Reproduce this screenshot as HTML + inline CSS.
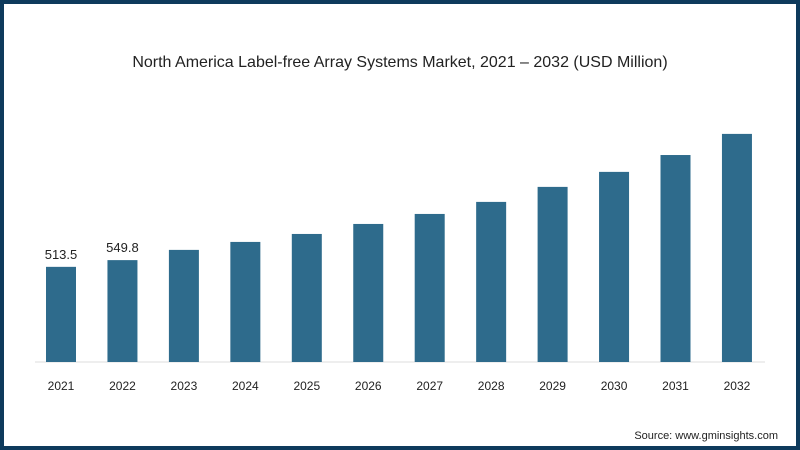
<!DOCTYPE html>
<html><head><meta charset="utf-8"><style>
body{margin:0;background:#fff}
#wrap{position:relative;width:800px;height:450px;box-sizing:border-box;border:4px solid #0e3a5c;background:#fff;font-family:"Liberation Sans",sans-serif}
</style></head><body>
<div id="wrap">
<svg id="chart" width="792" height="442" style="position:absolute;left:0;top:0">
<text x="396" y="63" text-anchor="middle" font-size="16" fill="#222">North America Label-free Array Systems Market, 2021 – 2032 (USD Million)</text>
<line x1="31" y1="358" x2="761" y2="358" stroke="#ddd" stroke-width="1"/>
<text x="774" y="435" text-anchor="end" font-size="11" fill="#222">Source: www.gminsights.com</text>
</svg>
</div>
<script>
const categories=["2021","2022","2023","2024","2025","2026","2027","2028","2029","2030","2031","2032"];
const values=[513.5,549.8,605,648,691,745,799,864,945,1026,1117,1231];
const labels=["513.5","549.8","","","","","","","","","",""];
const svg=document.getElementById('chart');
const NS="http://www.w3.org/2000/svg";
const baseY=358, scale=0.1853;
function xPos(i){return 57+i*61.45;}
function yPos(v){return baseY-v*scale;}
categories.forEach((c,i)=>{
 const r=document.createElementNS(NS,'rect');
 r.setAttribute('x',xPos(i)-15);r.setAttribute('width',30);
 r.setAttribute('y',yPos(values[i]));r.setAttribute('height',baseY-yPos(values[i]));
 r.setAttribute('fill','#2e6b8c');
 
 
 svg.appendChild(r);
 const t=document.createElementNS(NS,'text');
 t.setAttribute('x',xPos(i));t.setAttribute('y',386);t.setAttribute('text-anchor','middle');
 t.setAttribute('font-size','12');t.setAttribute('fill','#222');t.textContent=c;
 
 
 svg.appendChild(t);
 if(labels[i]){
  const l=document.createElementNS(NS,'text');
  l.setAttribute('x',xPos(i));l.setAttribute('y',yPos(values[i])-8);l.setAttribute('text-anchor','middle');
  l.setAttribute('font-size','13');l.setAttribute('fill','#222');l.textContent=labels[i];
  
  
  svg.appendChild(l);
 }
});
</script>
</body></html>
